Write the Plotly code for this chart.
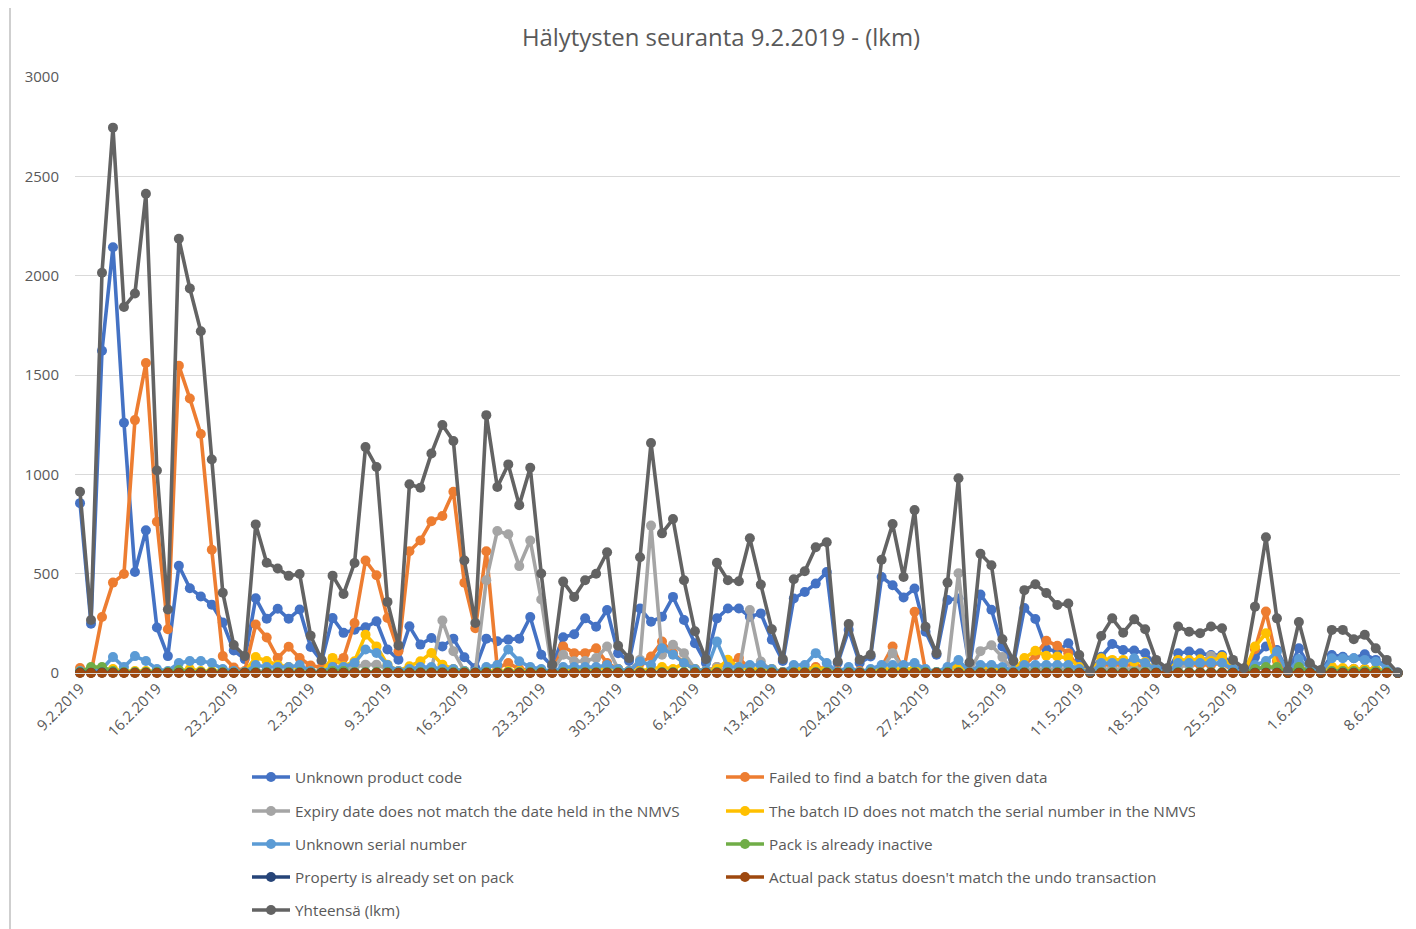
import datetime as dt
import plotly.graph_objects as go

start_date = dt.date(2019, 2, 9)
n_days = 121
dates = [start_date + dt.timedelta(days=i) for i in range(n_days)]

tick_labels = ["9.2.2019", "16.2.2019", "23.2.2019", "2.3.2019", "9.3.2019", "16.3.2019",
               "23.3.2019", "30.3.2019", "6.4.2019", "13.4.2019", "20.4.2019", "27.4.2019",
               "4.5.2019", "11.5.2019", "18.5.2019", "25.5.2019", "1.6.2019", "8.6.2019"]
tick_dates = [dt.datetime.strptime(t, "%d.%m.%Y").date() for t in tick_labels]

unknown_product_code = [
    855, 248, 1622, 2143, 1260, 508, 718, 229, 85, 540, 427,
    385, 344, 254, 113, 70, 376, 273, 323, 273, 320, 131,
    60, 277, 202, 218, 230, 260, 118, 67, 235, 143, 176,
    134, 173, 79, 25, 173, 160, 168, 173, 282, 92, 34,
    180, 195, 275, 233, 317, 100, 60, 325, 258, 283, 383,
    267, 150, 50, 275, 325, 325, 283, 300, 167, 60, 375,
    408, 450, 508, 50, 217, 50, 83, 483, 442, 380, 425,
    208, 92, 367, 375, 30, 395, 318, 133, 40, 327, 272,
    120, 110, 150, 60, 5, 82, 146, 116, 113, 99, 40,
    10, 99, 108, 99, 90, 90, 40, 10, 80, 133, 116,
    5, 124, 30, 5, 91, 82, 74, 94, 66, 32, 2]

failed_batch = [
    25, 0, 282, 455, 498, 1273, 1560, 761, 220, 1547, 1382,
    1203, 620, 85, 28, 10, 244, 179, 75, 132, 75, 38,
    28, 50, 76, 252, 566, 492, 277, 109, 613, 667, 764,
    790, 912, 454, 225, 613, 25, 50, 20, 15, 10, 5,
    134, 100, 100, 125, 50, 20, 10, 50, 83, 158, 100,
    50, 20, 10, 30, 50, 75, 20, 10, 10, 5, 20,
    20, 30, 20, 10, 20, 10, 10, 30, 133, 10, 308,
    10, 5, 20, 30, 5, 20, 20, 20, 10, 40, 90,
    162, 137, 100, 20, 0, 40, 40, 40, 40, 30, 10,
    0, 40, 40, 40, 40, 50, 10, 0, 120, 309, 60,
    0, 30, 10, 0, 20, 20, 20, 20, 15, 10, 0]

expiry_mismatch = [
    5, 5, 5, 10, 5, 5, 5, 5, 5, 5, 5,
    5, 5, 5, 5, 5, 10, 10, 10, 10, 10, 5,
    5, 20, 20, 30, 42, 42, 20, 5, 10, 20, 20,
    264, 110, 10, 5, 467, 715, 698, 538, 667, 370, 10,
    92, 59, 60, 75, 133, 20, 10, 67, 742, 92, 142,
    100, 20, 10, 30, 10, 10, 317, 58, 10, 5, 10,
    10, 20, 20, 5, 10, 5, 10, 20, 100, 20, 20,
    10, 5, 20, 502, 5, 110, 140, 80, 10, 20, 20,
    20, 20, 20, 10, 0, 20, 20, 20, 20, 20, 10,
    0, 30, 40, 60, 86, 80, 20, 0, 20, 30, 20,
    0, 20, 10, 0, 20, 20, 20, 20, 20, 10, 0]

batch_id_mismatch = [
    10, 10, 10, 20, 10, 10, 10, 10, 5, 10, 20,
    10, 10, 10, 5, 5, 80, 60, 40, 30, 30, 10,
    5, 76, 34, 59, 193, 134, 42, 10, 34, 59, 101,
    42, 20, 10, 5, 10, 10, 10, 10, 10, 10, 5,
    20, 20, 20, 20, 30, 20, 10, 10, 20, 30, 20,
    50, 20, 10, 20, 67, 30, 20, 20, 20, 5, 20,
    20, 20, 20, 5, 10, 5, 10, 20, 20, 20, 20,
    10, 5, 20, 40, 5, 30, 30, 20, 10, 75, 112,
    87, 83, 77, 30, 0, 74, 66, 66, 57, 55, 20,
    0, 66, 65, 69, 60, 82, 20, 0, 133, 200, 30,
    0, 30, 10, 0, 32, 25, 20, 20, 20, 10, 0]

unknown_serial = [
    10, 10, 20, 80, 30, 85, 60, 20, 10, 50, 60,
    60, 50, 20, 10, 5, 40, 30, 30, 30, 40, 10,
    5, 30, 30, 50, 118, 101, 40, 10, 20, 30, 30,
    20, 20, 10, 5, 30, 40, 118, 59, 30, 20, 5,
    30, 30, 30, 30, 40, 20, 10, 58, 40, 125, 92,
    50, 20, 10, 158, 30, 30, 40, 40, 20, 5, 40,
    40, 100, 50, 5, 30, 5, 20, 40, 40, 40, 50,
    20, 5, 30, 65, 5, 40, 40, 30, 10, 40, 40,
    40, 40, 40, 20, 0, 50, 50, 50, 74, 50, 20,
    0, 50, 50, 50, 50, 50, 20, 0, 40, 60, 108,
    0, 70, 20, 0, 74, 74, 74, 66, 57, 30, 0]

pack_inactive = [
    5, 30, 30, 10, 5, 5, 5, 5, 5, 15, 5,
    5, 5, 5, 3, 3, 5, 5, 5, 5, 5, 3,
    3, 10, 10, 5, 5, 5, 5, 3, 5, 5, 5,
    5, 5, 5, 3, 5, 5, 5, 5, 5, 5, 3,
    5, 5, 5, 5, 5, 5, 3, 5, 5, 5, 5,
    5, 5, 3, 5, 5, 5, 5, 5, 5, 3, 5,
    5, 5, 5, 3, 5, 3, 5, 5, 5, 5, 5,
    5, 3, 5, 5, 3, 5, 5, 5, 3, 5, 5,
    5, 5, 5, 3, 0, 5, 5, 5, 5, 5, 3,
    0, 5, 5, 5, 5, 5, 3, 0, 20, 30, 30,
    0, 30, 5, 0, 10, 10, 10, 10, 10, 5, 0]

property_already_set = [
    2, 1, 2, 2, 1, 1, 1, 1, 1, 1, 1,
    1, 1, 1, 1, 1, 1, 1, 1, 1, 1, 1,
    1, 1, 1, 1, 1, 1, 1, 1, 1, 1, 1,
    1, 1, 1, 1, 1, 1, 1, 1, 1, 1, 1,
    1, 1, 1, 1, 1, 1, 1, 1, 1, 1, 1,
    1, 1, 1, 1, 1, 1, 1, 1, 1, 1, 1,
    1, 1, 1, 1, 1, 1, 1, 1, 1, 1, 1,
    1, 1, 1, 1, 1, 1, 1, 1, 1, 1, 1,
    1, 1, 1, 1, 0, 1, 1, 1, 1, 1, 1,
    0, 1, 1, 1, 1, 1, 1, 0, 1, 1, 1,
    0, 1, 1, 0, 1, 1, 1, 1, 1, 1, 0]

pack_status_undo = [
    0, 0, 0, 0, 0, 0, 0, 0, 0, 0, 0,
    0, 0, 0, 0, 0, 0, 0, 0, 0, 0, 0,
    0, 0, 0, 0, 0, 0, 0, 0, 0, 0, 0,
    0, 0, 0, 0, 0, 0, 0, 0, 0, 0, 0,
    0, 0, 0, 0, 0, 0, 0, 0, 0, 0, 0,
    0, 0, 0, 0, 0, 0, 0, 0, 0, 0, 0,
    0, 0, 0, 0, 0, 0, 0, 0, 0, 0, 0,
    0, 0, 0, 0, 0, 0, 0, 0, 0, 0, 0,
    0, 0, 0, 0, 0, 0, 0, 0, 0, 0, 0,
    0, 0, 0, 0, 0, 0, 0, 0, 0, 0, 0,
    0, 0, 0, 0, 0, 0, 0, 0, 0, 0, 0]

total = [
    912, 267, 2015, 2745, 1842, 1910, 2412, 1019, 320, 2186, 1936,
    1720, 1075, 404, 141, 85, 748, 555, 526, 489, 498, 188,
    65, 490, 398, 554, 1137, 1037, 358, 139, 950, 933, 1105,
    1248, 1168, 566, 252, 1298, 936, 1050, 845, 1033, 501, 42,
    460, 383, 467, 500, 608, 137, 75, 583, 1158, 703, 775,
    467, 210, 70, 555, 467, 462, 678, 445, 220, 70, 472,
    512, 633, 658, 58, 247, 67, 92, 570, 750, 483, 820,
    233, 100, 455, 980, 53, 600, 542, 170, 62, 417, 447,
    403, 342, 350, 91, 7, 186, 275, 203, 270, 220, 66,
    24, 234, 208, 200, 234, 225, 66, 24, 334, 683, 275,
    12, 257, 49, 15, 217, 217, 170, 192, 124, 66, 2]

series_names = [
    "Unknown product code",
    "Failed to find a batch for the given data",
    "Expiry date does not match the date held in the NMVS",
    "The batch ID does not match the serial number in the NMVS",
    "Unknown serial number",
    "Pack is already inactive",
    "Property is already set on pack",
    "Actual pack status doesn't match the undo transaction",
    "Yhteensä (lkm)",
]
series_values = [unknown_product_code, failed_batch, expiry_mismatch, batch_id_mismatch,
                 unknown_serial, pack_inactive, property_already_set, pack_status_undo, total]
series_colors = ["#4472C4", "#ED7D31", "#A5A5A5", "#FFC000", "#5B9BD5",
                 "#70AD47", "#264478", "#9E480E", "#636363"]
legend_ids = ["legend", "legend", "legend2", "legend2", "legend3", "legend3",
              "legend4", "legend4", "legend5"]

FONT = "Open Sans"
TXT = "#595959"

fig = go.Figure()
for name, vals, col, lg in zip(series_names, series_values, series_colors, legend_ids):
    fig.add_trace(go.Scatter(
        x=dates, y=vals, name=name, mode="lines+markers",
        line=dict(color=col, width=3.6),
        marker=dict(color=col, size=10),
        cliponaxis=False, legend=lg,
    ))

# the page body adds an 8px offset; work in figure coordinates = page coordinates - 8
OFF = 8
W, H = 1416 - OFF, 929 - OFF
ml, mt = 75 - OFF, 77 - OFF
plot_right, plot_bottom = 1400 - OFF, 673 - OFF
mr, mb = W - plot_right, H - plot_bottom
pw, ph = W - ml - mr, H - mt - mb

def py(ypage):
    return (plot_bottom - (ypage - OFF)) / ph

def px(xpage):
    return ((xpage - OFF) - ml) / pw

legend_common = dict(orientation="h", x=px(247), xanchor="left", yanchor="middle",
                     font=dict(family=FONT, size=15.3, color=TXT),
                     entrywidth=421, entrywidthmode="pixels", itemwidth=38,
                     bgcolor="rgba(0,0,0,0)", itemclick=False)
row_y = [777, 811, 844, 877, 910]

fig.update_layout(
    width=W, height=H,
    margin=dict(l=ml, r=mr, t=mt, b=mb, autoexpand=False),
    paper_bgcolor="white", plot_bgcolor="white",
    font=dict(family=FONT, color=TXT),
    title=dict(text="Hälytysten seuranta 9.2.2019 - (lkm)",
               x=(721 - OFF) / W, xanchor="center", y=1 - (38 - OFF) / H, yanchor="middle",
               font=dict(family=FONT, size=23.9, color=TXT)),
    legend=dict(**legend_common, y=py(row_y[0])),
    legend2=dict(**legend_common, y=py(row_y[1])),
    legend3=dict(**legend_common, y=py(row_y[2])),
    legend4=dict(**legend_common, y=py(row_y[3])),
    legend5=dict(**legend_common, y=py(row_y[4])),
    xaxis=dict(
        type="date",
        range=[dt.datetime(2019, 2, 9) - dt.timedelta(hours=11),
               dt.datetime(2019, 6, 9) + dt.timedelta(hours=5)],
        tickvals=tick_dates, ticktext=tick_labels, tickangle=-45,
        tickfont=dict(family=FONT, size=15, color=TXT),
        showgrid=False, showline=True, linecolor="#D9D9D9", linewidth=1,
        ticks="", zeroline=False,
    ),
    yaxis=dict(
        range=[0, 3000], tickvals=[0, 500, 1000, 1500, 2000, 2500, 3000],
        tickfont=dict(family=FONT, size=15, color=TXT),
        showgrid=True, gridcolor="#D9D9D9", gridwidth=1,
        zeroline=False, showline=False, ticks="", ticklabelstandoff=15,
    ),
    shapes=[dict(type="line", xref="paper", yref="paper",
                 x0=px(10), x1=px(10), y0=py(0), y1=py(929),
                 line=dict(color="#BFBFBF", width=1.5))],
)

fig.write_html("out.html")
